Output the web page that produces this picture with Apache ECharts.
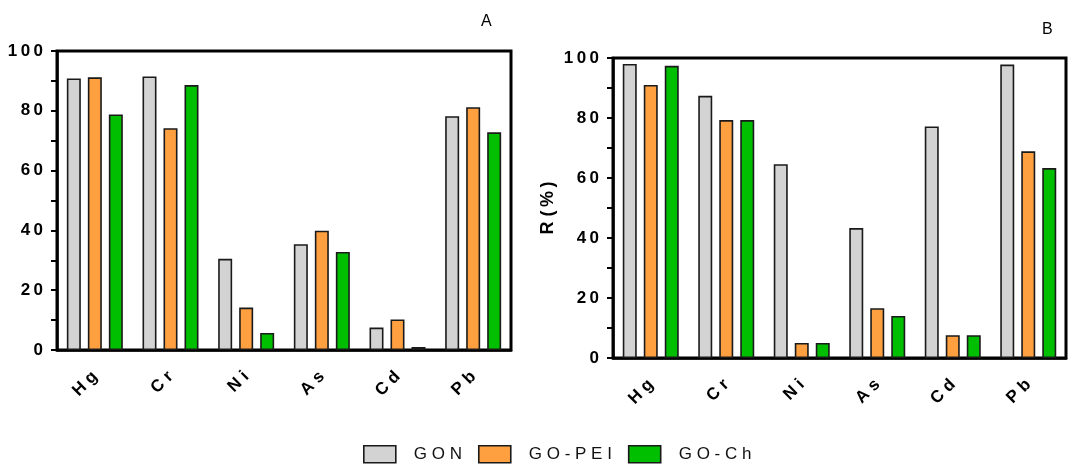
<!DOCTYPE html>
<html>
<head>
<meta charset="utf-8">
<script src="https://cdn.jsdelivr.net/npm/echarts@6/dist/echarts.min.js"></script>
<style>
html,body{margin:0;padding:0;background:#fff;}
#c{width:1068px;height:466px;}
</style>
</head>
<body>
<div id="c"></div>
<script>
const categories = ['Hg', 'Cr', 'Ni', 'As', 'Cd', 'Pb'];
const seriesNames = ['GON', 'GO-PEI', 'GO-Ch'];
const gonA = [90.8, 91.5, 30.5, 35.4, 7.5, 78.2];
const peiA = [91.2, 74.2, 14.2, 39.9, 10.2, 81.2];
const chA  = [78.8, 88.6, 5.7, 32.8, 1.0, 72.8];
const gonB = [98.0, 87.4, 64.6, 43.3, 77.2, 97.8];
const peiB = [91.0, 79.3, 5.0, 16.6, 7.6, 68.9];
const chB  = [97.4, 79.3, 5.0, 14.0, 7.6, 63.3];
const yTicks = [0, 20, 40, 60, 80, 100];
const panelTitles = ['A', 'B'];
const yName = 'R (%)';

const colors = ['#d3d3d3', '#ffa040', '#00bf00'];
const FONT = '"Liberation Sans", Arial, sans-serif';
const thin = s => String(s).split('').join('\u2009');
const spaced = s => String(s).split('').join(' ');

function xAxis(i) {
  return {
    type: 'category', gridIndex: i, data: categories,
    axisLine: {lineStyle: {color: '#000', width: 2.5}},
    axisTick: {alignWithLabel: true, length: 7, lineStyle: {color: '#000', width: 3}},
    axisLabel: {
      rotate: 45, margin: 24, color: '#000', fontWeight: 'bold', fontSize: 17,
      fontFamily: FONT, formatter: v => spaced(v), interval: 0
    },
    splitLine: {show: false}
  };
}
function yAxis(i) {
  return {
    type: 'value', gridIndex: i, min: yTicks[0], max: yTicks[yTicks.length - 1], interval: 20,
    name: i === 1 ? 'R (\u2009%\u2009)' : '',
    nameLocation: 'middle', nameGap: 56,
    nameTextStyle: {color: '#000', fontWeight: 'bold', fontSize: 18, fontFamily: FONT},
    axisLine: {show: true, lineStyle: {color: '#000', width: 2.5}},
    axisTick: {show: true, length: 6, lineStyle: {color: '#000', width: 2}},
    minorTick: {show: true, splitNumber: 2, length: 6, lineStyle: {color: '#000', width: 2}},
    axisLabel: {
      margin: 14, color: '#000', fontWeight: 'bold', fontSize: 17, fontFamily: FONT,
      formatter: v => thin(v)
    },
    splitLine: {show: false}
  };
}
function bars(name, data, idx, ci) {
  return {
    name: name, type: 'bar', xAxisIndex: idx, yAxisIndex: idx, data: data,
    barWidth: 14, barGap: '50%',
    itemStyle: {color: colors[ci], borderColor: '#1a1a1a', borderWidth: 1.6},
    emphasis: {disabled: true}
  };
}

const chart = echarts.init(document.getElementById('c'), null, {renderer: 'canvas'});
chart.setOption({
  animation: false,
  backgroundColor: '#fff',
  title: [
    {text: panelTitles[0], left: 476, top: 9, textStyle: {fontSize: 16, fontWeight: 'normal', color: '#000', fontFamily: FONT}},
    {text: panelTitles[1], left: 1037, top: 17, textStyle: {fontSize: 16, fontWeight: 'normal', color: '#000', fontFamily: FONT}}
  ],
  legend: {
    left: 363, top: 445, padding: 0, itemWidth: 32, itemHeight: 17, itemGap: 16,
    icon: 'rect', data: seriesNames,
    itemStyle: {borderColor: '#1a1a1a', borderWidth: 1.6},
    textStyle: {fontSize: 17, color: '#111', fontFamily: FONT, padding: [0, 0, 0, 13]},
    formatter: n => spaced(n)
  },
  grid: [
    {left: 57, top: 51, width: 454, height: 299, show: true, borderColor: '#000', borderWidth: 3, backgroundColor: 'transparent'},
    {left: 613, top: 58, width: 453, height: 300, show: true, borderColor: '#000', borderWidth: 3, backgroundColor: 'transparent'}
  ],
  xAxis: [xAxis(0), xAxis(1)],
  yAxis: [yAxis(0), yAxis(1)],
  series: [
    bars(seriesNames[0], gonA, 0, 0),
    bars(seriesNames[1], peiA, 0, 1),
    bars(seriesNames[2], chA, 0, 2),
    bars(seriesNames[0], gonB, 1, 0),
    bars(seriesNames[1], peiB, 1, 1),
    bars(seriesNames[2], chB, 1, 2)
  ]
});
</script>
</body>
</html>
